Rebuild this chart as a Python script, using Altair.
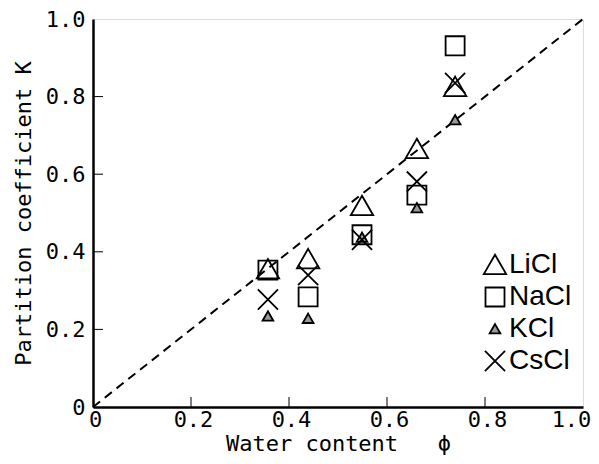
import altair as alt
import pandas as pd

# ---- data ----
salts = ["LiCl", "NaCl", "KCl", "CsCl"]
water = [0.357, 0.439, 0.549, 0.661, 0.739]
licl = [0.355, 0.381, 0.518, 0.665, 0.825]
nacl = [0.353, 0.284, 0.444, 0.546, 0.931]
kcl = [0.234, 0.228, 0.437, 0.513, 0.740]
cscl = [0.277, 0.340, 0.431, 0.581, 0.835]
label_vals = [0, 0.2, 0.4, 0.6, 0.8, 1.0]
tick_vals = [0.2, 0.4, 0.6, 0.8]
diag_x = [0, 1]
diag_y = [0, 1]

rows = []
for s, ys in zip(salts, [licl, nacl, kcl, cscl]):
    for x, y in zip(water, ys):
        rows.append({"phi": x, "K": y, "salt": s})
df = pd.DataFrame(rows)
diag = pd.DataFrame({"phi": diag_x, "K": diag_y})
xt = pd.DataFrame({"phi": tick_vals})
yt = pd.DataFrame({"K": tick_vals})

W, H = 490, 388
MONO = "DejaVu Sans Mono"
lbl_expr = "datum.value == 0 ? '0' : format(datum.value, '.1f')"
NB = "\u00a0"

xscale = alt.Scale(domain=[0, 1], nice=False, zero=False)
yscale = alt.Scale(domain=[0, 1], nice=False, zero=False)

xaxis = alt.Axis(
    values=label_vals, labelExpr=lbl_expr, ticks=False, grid=False,
    domainColor="black", domainWidth=2.5,
    labelFont=MONO, labelFontSize=22, labelColor="black", labelPadding=2,
    labelOverlap=False, labelFlush=False,
    labelOffset={"condition": {"test": "datum.value == 1", "value": -12}, "value": 2},
    title="Water content" + NB * 3 + "ϕ", titleFont=MONO, titleFontSize=22,
    titleFontWeight="normal", titleColor="black", titlePadding=3,
)
yaxis = alt.Axis(
    values=label_vals, labelExpr=lbl_expr, ticks=False, grid=False,
    domainColor="black", domainWidth=2.5,
    labelFont=MONO, labelFontSize=22, labelColor="black", labelPadding=8,
    labelOverlap=False, labelFlush=False,
    title="Partition coefficient K", titleFont=MONO, titleFontSize=22,
    titleFontWeight="normal", titleColor="black", titlePadding=10,
)

tri = "M0,-0.92L1,0.82L-1,0.82Z"
sq = "M-0.85,-0.85L0.85,-0.85L0.85,0.85L-0.85,0.85Z"
small_tri = "M0,-0.44L0.48,0.4L-0.48,0.4Z"
cross = "M-0.9,-0.9L0.9,0.9M0.9,-0.9L-0.9,0.9"

leg = alt.Legend(
    title=None, orient="none", legendX=388, legendY=232,
    labelFont="Liberation Sans", labelFontSize=28, labelColor="black",
    symbolSize=500, symbolStrokeWidth=1.8, symbolStrokeColor="black",
    rowPadding=4, labelOffset=0,
)

line = alt.Chart(diag).mark_line(
    color="black", strokeWidth=2, strokeDash=[9, 6]
).encode(
    x=alt.X("phi:Q", scale=xscale, axis=xaxis),
    y=alt.Y("K:Q", scale=yscale, axis=yaxis),
)

points = alt.Chart(df).mark_point(
    filled=True, strokeWidth=1.8, opacity=1, size=500
).encode(
    x="phi:Q",
    y="K:Q",
    shape=alt.Shape("salt:N", scale=alt.Scale(domain=salts, range=[tri, sq, small_tri, cross]), legend=leg),
    fill=alt.Fill("salt:N", scale=alt.Scale(domain=salts, range=["transparent", "transparent", "#9a9a9a", "transparent"]), legend=leg),
    stroke=alt.Stroke("salt:N", scale=alt.Scale(domain=salts, range=["black", "black", "black", "black"]), legend=leg),
)

xticks = alt.Chart(xt).mark_rule(color="black", strokeWidth=1).encode(
    x="phi:Q", y=alt.value(H), y2=alt.value(H - 10)
)
yticks = alt.Chart(yt).mark_rule(color="black", strokeWidth=1).encode(
    y="K:Q", x=alt.value(0), x2=alt.value(10)
)

chart = alt.layer(line, xticks, yticks, points).properties(
    width=W, height=H,
    autosize=alt.AutoSizeParams(type="none"),
    padding={"left": 85, "top": 11, "right": 8, "bottom": 48},
).configure_view(
    stroke="black", strokeWidth=2
).configure(background="white")

chart.save("out.html", embed_options={"renderer": "svg", "actions": False})
